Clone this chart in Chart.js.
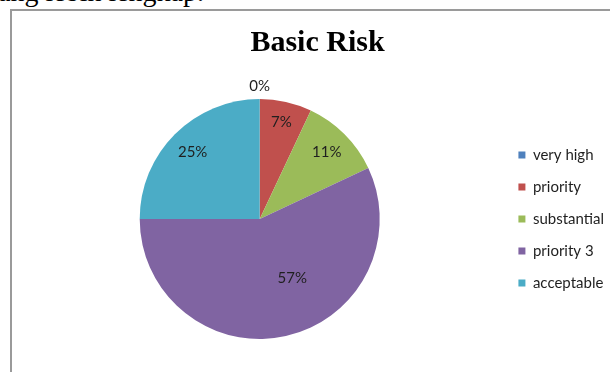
<!DOCTYPE html>
<html>
<head>
<meta charset="utf-8">
<script src="https://cdn.jsdelivr.net/npm/chart.js@4.4.1/dist/chart.umd.min.js"></script>
<style>
  html, body { margin: 0; padding: 0; background: #fff; overflow: hidden; }
  body { width: 610px; height: 372px; position: relative; }
  #lead { position: absolute; left: -16px; top: -24px; font: 28px "Liberation Serif", "Times New Roman", serif; color: #000; white-space: nowrap; line-height: 32px; }
  #frame { position: absolute; left: 10px; top: 9px; width: 640px; height: 400px; border-left: 2px solid #9a9a9a; border-top: 2px solid #9a9a9a; }
  #wrap { position: absolute; left: 12px; top: 11px; width: 598px; height: 361px; }
</style>
</head>
<body>
<div id="lead">yang lebih lengkap.</div>
<div id="frame"></div>
<div id="wrap"><canvas id="c" width="598" height="361"></canvas></div>
<script>
// ---- data ----
const chartTitle = "Basic Risk";
const categories = ["very high", "priority", "substantial", "priority 3", "acceptable"];
const percentValues = [0, 7, 11, 57, 25];
const sliceColors = ["#4f81bd", "#c0504d", "#9bbb59", "#8064a2", "#4bacc6"];

// label placement (fraction of slice angle, fraction of radius)
const labelAngleFrac = [0.5, 0.5, 0.5, 0.42, 0.5];
const labelRadiusFrac = [1.11, 0.83, 0.79, 0.56, 0.79];

const titleCenterX = 305.5; // canvas coords

const shiftTitle = {
  id: 'shiftTitle',
  afterLayout(chart) {
    const tb = chart.titleBlock;
    if (!tb) return;
    const d = titleCenterX - (tb.left + tb.right) / 2;
    tb.left += d; tb.right += d;
  }
};

const pctLabels = {
  id: 'pctLabels',
  afterDatasetsDraw(chart) {
    const ctx = chart.ctx;
    const meta = chart.getDatasetMeta(0);
    ctx.save();
    ctx.font = '15px Lato, "Open Sans", sans-serif';
    ctx.fillStyle = '#1f1f1f';
    ctx.textAlign = 'center';
    ctx.textBaseline = 'middle';
    meta.data.forEach((arc, i) => {
      const p = arc.getProps(['x', 'y', 'startAngle', 'endAngle', 'outerRadius'], true);
      const a = p.startAngle + (p.endAngle - p.startAngle) * labelAngleFrac[i];
      const r = p.outerRadius * labelRadiusFrac[i];
      const val = chart.data.datasets[0].data[i];
      ctx.fillText(val + '%', p.x + Math.cos(a) * r, p.y + Math.sin(a) * r);
    });
    ctx.restore();
  }
};

new Chart(document.getElementById('c'), {
  type: 'pie',
  data: {
    labels: categories,
    datasets: [{
      data: percentValues,
      backgroundColor: sliceColors,
      borderWidth: 0,
      hoverOffset: 0
    }]
  },
  options: {
    responsive: false,
    animation: false,
    events: [],
    layout: { padding: { left: 6, right: -4, top: 0, bottom: 33 } },
    plugins: {
      title: {
        display: true,
        text: chartTitle,
        color: '#000',
        font: { family: '"Liberation Serif", "Times New Roman", serif', size: 30, weight: 'bold', lineHeight: 1.2 },
        padding: { top: 14, bottom: 38 }
      },
      legend: {
        position: 'right',
        fullSize: false,
        align: 'center',
        labels: {
          boxWidth: 7,
          boxHeight: 7,
          padding: 17,
          color: '#1f1f1f',
          font: { family: 'Lato, "Open Sans", sans-serif', size: 15 }
        }
      },
      tooltip: { enabled: false }
    }
  },
  plugins: [shiftTitle, pctLabels]
});
</script>
</body>
</html>
